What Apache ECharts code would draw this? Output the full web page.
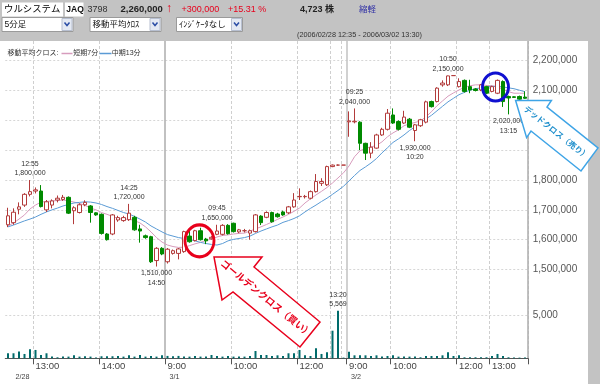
<!DOCTYPE html>
<html><head><meta charset="utf-8">
<script src="https://cdn.jsdelivr.net/npm/echarts/dist/echarts.min.js"></script>
<style>
html,body{margin:0;padding:0;background:#c3c3c3;width:600px;height:384px;overflow:hidden;}
#panel{position:absolute;left:0;top:41px;width:588px;height:343px;background:#fff;}
#chart{position:absolute;left:0;top:0;width:600px;height:384px;}
</style></head><body>
<div id="panel"></div><div id="chart"></div>
<script>
// ---------- data ----------
const categories = [
 '02/28 12:35','02/28 12:40','02/28 12:45','02/28 12:50','02/28 12:55',
 '02/28 13:00','02/28 13:05','02/28 13:10','02/28 13:15','02/28 13:20','02/28 13:25','02/28 13:30','02/28 13:35','02/28 13:40','02/28 13:45','02/28 13:50','02/28 13:55',
 '02/28 14:00','02/28 14:05','02/28 14:10','02/28 14:15','02/28 14:20','02/28 14:25','02/28 14:30','02/28 14:35','02/28 14:40','02/28 14:45','02/28 14:50','02/28 14:55',
 '03/01 09:00','03/01 09:05','03/01 09:10','03/01 09:15','03/01 09:20','03/01 09:25','03/01 09:30','03/01 09:35','03/01 09:40','03/01 09:45','03/01 09:50','03/01 09:55',
 '03/01 10:00','03/01 10:05','03/01 10:10','03/01 10:15','03/01 10:20','03/01 10:25','03/01 10:30','03/01 10:35','03/01 10:40','03/01 10:45','03/01 10:50','03/01 10:55',
 '03/01 12:30','03/01 12:35','03/01 12:40','03/01 12:45','03/01 12:50','03/01 12:55','03/01 13:00','03/01 13:20','03/01 14:55',
 '03/02 09:20','03/02 09:25','03/02 09:30','03/02 09:35','03/02 09:40','03/02 09:45','03/02 09:50','03/02 09:55',
 '03/02 10:00','03/02 10:05','03/02 10:10','03/02 10:15','03/02 10:20','03/02 10:25','03/02 10:30','03/02 10:35','03/02 10:40','03/02 10:45','03/02 10:50','03/02 10:55',
 '03/02 12:30','03/02 12:35','03/02 12:40','03/02 12:45','03/02 12:50','03/02 12:55',
 '03/02 13:00','03/02 13:05','03/02 13:10','03/02 13:15','03/02 13:20','03/02 13:25','03/02 13:30'
];
const openP = [
 1650000,1657000,1702000,1716000,1752000,1763000,1763000,1700000,1716000,1733000,1735000,1742000,1697000,1691000,1717000,1713000,1690000,1685000,1619000,1619000,1666000,1664000,1667000,1675000,1636000,1613000,1610000,1530000,1571000,
 1526000,1554000,1554000,1560000,1612000,1597000,1630000,1602000,1603000,1618000,1618000,1648000,1655000,1626000,1630000,1622000,1627000,1679000,1675000,1691000,1686000,1693000,1690000,1710000,1744000,1744000,1739000,1761000,1789000,1784000,1845000,1850000,1850000,
 1995000,1995000,1994000,1923000,1890000,1907000,1951000,1970000,2018000,1996000,1991000,2004000,1966000,1982000,1994000,2063000,2063000,2119000,2119000,2150000,2113000,2134000,2113000,2105000,2102000,2113000,2097000,2091000,2130000,2080000,2079000,2080000,2078000
];
const closeP = [
 1680000,1692000,1710000,1752000,1761000,1767000,1711000,1727000,1730000,1739000,1742000,1689000,1707000,1717000,1725000,1691000,1683000,1621000,1600000,1683000,1674000,1674000,1689000,1633000,1629000,1607000,1526000,1571000,1552000,
 1568000,1563000,1569000,1627000,1593000,1630000,1600000,1596000,1608000,1629000,1648000,1620000,1627000,1633000,1630000,1630000,1683000,1657000,1691000,1660000,1677000,1683000,1710000,1733000,1745000,1745000,1761000,1795000,1795000,1845000,1850000,1850000,1850000,
 1998000,1997000,1923000,1890000,1910000,1951000,1970000,2024000,1991000,1970000,2011000,1977000,1985000,2002000,2062000,2046000,2108000,2125000,2149000,2150000,2130000,2097000,2102000,2100000,2119000,2091000,2113000,2134000,2063000,2075000,2077000,2071000,2074000
];
const lowP = [
 1642000,1650000,1685000,1710000,1745000,1755000,1708000,1693000,1705000,1725000,1730000,1686000,1652000,1688000,1712000,1657000,1680000,1617000,1597000,1615000,1660000,1660000,1663000,1630000,1590000,1603000,1522000,1510000,1548000,
 1520000,1550000,1534000,1556000,1590000,1594000,1597000,1585000,1600000,1615000,1614000,1617000,1624000,1622000,1624000,1600000,1624000,1649000,1672000,1657000,1674000,1680000,1686000,1707000,1733000,1738000,1735000,1758000,1780000,1780000,1843000,1848000,1850000,
 1945000,1990000,1900000,1867000,1873000,1905000,1948000,1966000,1988000,1966000,1988000,1974000,1930000,1978000,1990000,2043000,2060000,2113000,2115000,2150000,2110000,2093000,2091000,2097000,2098000,2088000,2094000,2088000,2045000,2020000,2075000,2068000,2072000
];
const highP = [
 1707000,1705000,1725000,1756000,1800000,1775000,1783000,1733000,1735000,1748000,1750000,1745000,1712000,1722000,1732000,1716000,1692000,1688000,1622000,1686000,1680000,1680000,1720000,1680000,1650000,1617000,1613000,1575000,1575000,
 1572000,1567000,1572000,1630000,1635000,1633000,1640000,1606000,1612000,1650000,1652000,1652000,1657000,1636000,1636000,1634000,1686000,1682000,1695000,1694000,1690000,1697000,1713000,1756000,1772000,1750000,1765000,1820000,1806000,1848000,1852000,1852000,1850000,
 2030000,2040000,1997000,1925000,1927000,1955000,1975000,2038000,2040000,2000000,2032000,2008000,1988000,2005000,2066000,2066000,2111000,2134000,2150000,2150000,2141000,2137000,2136000,2108000,2122000,2116000,2116000,2137000,2134000,2083000,2081000,2083000,2097000
];
const ma7 = [
 1646000,1656000,1669000,1683000,1703000,1716000,1726000,1728000,1730000,1731000,1733000,1730000,1726000,1722000,1715000,1706000,1700000,1691000,1685000,1678000,1671000,1668000,1669000,1664000,1656000,1643000,1626000,1607000,1592000,
 1582000,1577000,1574000,1575000,1580000,1586000,1591000,1597000,1602000,1609000,1614000,1616000,1619000,1621000,1622000,1629000,1636000,1643000,1651000,1659000,1668000,1676000,1685000,1695000,1706000,1723000,1737000,1750000,1762000,1775000,1790000,1807000,1824000,
 1847000,1878000,1898000,1906000,1911000,1916000,1928000,1945000,1958000,1968000,1982000,1988000,1993000,1998000,2012000,2029000,2049000,2065000,2081000,2092000,2102000,2111000,2116000,2119000,2119000,2117000,2116000,2112000,2104000,2096000,2091000,2091000,2091000
];
const ma13 = [
 1643000,1649000,1656000,1663000,1669000,1676000,1685000,1693000,1700000,1706000,1713000,1718000,1723000,1725000,1727000,1726000,1723000,1718000,1711000,1705000,1698000,1691000,1686000,1678000,1669000,1659000,1646000,1636000,1626000,
 1617000,1612000,1607000,1604000,1601000,1596000,1591000,1587000,1584000,1582000,1587000,1596000,1601000,1604000,1607000,1612000,1621000,1629000,1636000,1643000,1649000,1658000,1664000,1671000,1680000,1693000,1705000,1716000,1728000,1739000,1752000,1765000,1779000,
 1797000,1815000,1832000,1844000,1857000,1872000,1891000,1908000,1926000,1938000,1951000,1966000,1978000,1992000,2005000,2017000,2032000,2047000,2062000,2074000,2086000,2094000,2101000,2106000,2109000,2112000,2114000,2114000,2112000,2109000,2106000,2101000,2096000
];
const volume = [
 590,590,790,510,1060,980,390,590,200,120,200,200,350,200,240,200,80,240,240,240,280,200,350,200,390,200,280,200,350,
 280,240,280,200,200,280,200,200,390,280,200,280,200,200,200,280,860,390,390,280,350,280,590,590,980,350,270,1170,510,700,3240,5569,80,
 780,350,350,350,270,350,200,270,350,200,200,200,200,120,270,270,270,350,700,270,350,120,120,120,120,120,270,510,270,120,80,80,80
];
// axis labels
const tickIdx = [5,17,29,41,53,62,70,82,88];
const tickLabels = ['13:00','14:00','9:00','10:00','12:00','9:00','10:00','12:00','13:00'];
const hourLineIdx = [5,17,41,53,59,61,70,82,88];
const dayLineIdx = [29,62];
const dateIdx = [1,29,62];
const dateLabels = ['2/28','3/1','3/2'];
const priceTicks = [1500000,1600000,1700000,1800000,2100000,2200000];
const volTicks = [5000];
// annotations (high / low notes)
const noteCats = ['02/28 12:55','02/28 14:25','02/28 14:50','03/01 09:45','03/02 09:25','03/02 10:20','03/02 10:50','03/02 13:15'];
const noteVals = [1800000,1720000,1510000,1650000,2040000,1930000,2150000,2020000];
const noteSide = ['top','top','bottom','top','top','bottom','top','bottom'];
const volNoteCat = '03/01 13:20';
const volNoteVal = 5569;
const goldenCross = ['03/01 09:30', 1596000];
const deadCross = ['03/02 13:05', 2112000];

// ---------- chart ----------
const FONT = "'Liberation Sans','Noto Sans CJK JP',sans-serif";
const fmt = v => Math.round(v).toLocaleString('en-US');
const tickMap = {}; tickIdx.forEach((i,k) => tickMap[i] = tickLabels[k]);
const dateMap = {}; dateIdx.forEach((i,k) => dateMap[i] = dateLabels[k]);

const candleData = openP.map((o,i) => [o, closeP[i], lowP[i], highP[i]]);

const notePoints = noteCats.map((c,i) => {
  const t = c.split(' ')[1], v = fmt(noteVals[i]);
  return {coord:[c, noteVals[i]], symbolSize:0,
    label:{show:true, position:noteSide[i], distance:2,
      formatter: noteSide[i]==='top' ? (t+'\n'+v) : (v+'\n'+t)}};
});
notePoints.push({coord:goldenCross, symbol:'circle', symbolSize:[29,32], symbolOffset:[-1,0],
  itemStyle:{color:'rgba(0,0,0,0)', borderColor:'#e8001c', borderWidth:3}, label:{show:false}});
notePoints.push({coord:deadCross, symbol:'circle', symbolSize:[26,28], symbolOffset:[-2,0],
  itemStyle:{color:'rgba(0,0,0,0)', borderColor:'#1010d0', borderWidth:3}, label:{show:false}});

const hSplit = ['rgba(0,0,0,0)','rgba(0,0,0,0)','rgba(0,0,0,0)','#d6d6d6','#d6d6d6','#d6d6d6','#d6d6d6','#d6d6d6','#d6d6d6','#d6d6d6','#d6d6d6','rgba(0,0,0,0)'];

function txt(x, y, text, size, color, o) {
  o = o || {};
  const al = o.align || 'left';
  return {type:'text', x:x, y:y, z:o.z || 50, rotation:o.rot || 0, silent:true,
    style:{text:text, fontSize:size, fontFamily:FONT, fontWeight:o.bold ? 'bold' : 'normal', fill:color,
      align:al, verticalAlign:'middle', textAlign:al, textVerticalAlign:'middle'}};
}
function selBox(x, w, label) {
  return [
    {type:'rect', z:40, silent:true, shape:{x:x+0.5, y:17.5, width:w, height:14}, style:{fill:'#fff', stroke:'#9a9a9a', lineWidth:1}},
    {type:'rect', z:41, silent:true, shape:{x:x+w-10.5, y:18.5, width:10, height:12}, style:{fill:'#e4e9f3', stroke:'#b7bfd0', lineWidth:1}},
    {type:'polyline', z:42, silent:true, shape:{points:[[x+w-8,22.5],[x+w-5.5,25.5],[x+w-3,22.5]]}, style:{stroke:'#2c4ea6', lineWidth:1.5, fill:null}},
    txt(x+3, 24.5, label, 8.5, '#111')
  ];
}

const graphics = [
  {type:'rect', z:40, silent:true, shape:{x:2, y:2.5, width:61, height:14}, style:{fill:'#fff'}},
  txt(4, 9.7, 'ウルシステム', 9.4, '#000'),
  {type:'rect', z:40, silent:true, shape:{x:65, y:2.5, width:18.5, height:14}, style:{fill:'#fff'}},
  txt(66.3, 9.7, 'JAQ', 8.5, '#111', {bold:true}),
  txt(87.5, 9.7, '3798', 9, '#333'),
  txt(120.5, 9.7, '2,260,000', 9.5, '#222', {bold:true}),
  txt(166, 8.5, '↑', 12, '#e8001c', {bold:true}),
  txt(181.5, 9.7, '+300,000', 9, '#e8001c'),
  txt(228, 9.7, '+15.31 %', 9, '#e8001c'),
  txt(300, 9.7, '4,723 株', 9, '#222', {bold:true}),
  txt(359, 9.7, '縮軽', 8.5, '#3333a6'),
  ...selBox(1.5, 71, '5分足'),
  ...selBox(89.5, 71, '移動平均ｸﾛｽ'),
  ...selBox(176, 66, 'ｲﾝｼﾞｹｰﾀなし'),
  txt(297, 35.3, '(2006/02/28 12:35 - 2006/03/02 13:30)', 7.3, '#333'),
  // legend
  txt(7.5, 53.5, '移動平均クロス:', 7, '#333'),
  {type:'line', z:50, silent:true, shape:{x1:61.5, y1:53.5, x2:72.5, y2:53.5}, style:{stroke:'#d79cbd', lineWidth:1.5}},
  txt(73.3, 53.5, '短期7分', 7, '#333'),
  {type:'line', z:50, silent:true, shape:{x1:99.5, y1:53.5, x2:111.5, y2:53.5}, style:{stroke:'#5b9bd5', lineWidth:1.5}},
  txt(111.8, 53.5, '中期13分', 7, '#333'),
  // golden cross arrow
  {type:'polygon', z:60, silent:true, shape:{points:[[214,257],[262,257],[254,267],[320,322],[300,347],[233,292],[222,300]]},
    style:{fill:'#fff', stroke:'#e8001c', lineWidth:1.5}},
  txt(266, 299, 'ゴールデンクロス（買い）', 9.6, '#e8001c', {bold:true, align:'center', rot:-0.69, z:61}),
  // dead cross arrow
  {type:'polygon', z:60, silent:true, shape:{points:[[515.6,100.4],[551.4,100.4],[547,107],[598,148],[581,171],[531,131],[526.6,137.6]]},
    style:{fill:'#fff', stroke:'#3ea4e6', lineWidth:1.5}},
  txt(556, 133, 'デッドクロス（売り）', 8, '#1f8fcc', {bold:true, align:'center', rot:-0.67, z:61})
];

const chart = echarts.init(document.getElementById('chart'), null, {renderer:'canvas'});
chart.setOption({
  animation:false,
  backgroundColor:'rgba(0,0,0,0)',
  textStyle:{fontFamily:FONT},
  grid:[
    {left:5.25, right:72.25, top:41, bottom:25, containLabel:false, outerBoundsMode:'none'},
    {left:5.25, right:72.25, top:307.2, bottom:25.7, containLabel:false, outerBoundsMode:'none'}
  ],
  xAxis:[
    {type:'category', gridIndex:0, data:categories, boundaryGap:true, position:'bottom',
      axisLine:{show:false}, axisTick:{show:false}, axisLabel:{show:false},
      splitLine:{show:true, interval:(i)=>hourLineIdx.indexOf(i) >= 0, lineStyle:{color:'#cfcfcf', type:[3,2], width:1}}},
    {type:'category', gridIndex:0, data:categories, boundaryGap:true, position:'bottom',
      axisLine:{show:false}, axisTick:{show:false}, axisLabel:{show:false},
      splitLine:{show:true, interval:(i)=>dayLineIdx.indexOf(i) >= 0, lineStyle:{color:['#b2b2b2','#c6c6c6'], type:'solid', width:1.6}}},
    {type:'category', gridIndex:1, data:categories, boundaryGap:true, position:'bottom',
      axisLine:{show:true, lineStyle:{color:'#555', width:1}},
      axisTick:{show:true, interval:(i)=>tickMap[i] !== undefined, length:6, lineStyle:{color:'#555'}},
      axisLabel:{show:true, interval:(i)=>tickMap[i] !== undefined, formatter:(v,i)=>tickMap[i] || '',
        align:'left', margin:3, fontSize:9.5, color:'#444', fontFamily:FONT},
      splitLine:{show:false}},
    {type:'category', gridIndex:1, data:categories, boundaryGap:true, position:'bottom',
      axisLine:{show:false}, axisTick:{show:false},
      axisLabel:{show:true, interval:(i)=>dateMap[i] !== undefined, formatter:(v,i)=>dateMap[i] || '',
        align:'left', margin:15, fontSize:7.2, color:'#444', padding:[0,0,0,2], fontFamily:FONT},
      splitLine:{show:false}}
  ],
  yAxis:[
    {type:'value', gridIndex:0, position:'right', min:1200000, max:2266000, interval:100000, scale:true,
      axisLine:{show:false}, axisTick:{show:false},
      axisLabel:{margin:5, fontSize:10, color:'#555', fontFamily:FONT,
        formatter:(v)=>priceTicks.indexOf(Math.round(v)) >= 0 ? fmt(v) : ''},
      splitLine:{show:true, lineStyle:{color:hSplit, type:[2,2], width:1}}},
    {type:'value', gridIndex:1, position:'right', min:0, max:6000, interval:5000,
      axisLine:{show:false}, axisTick:{show:false},
      axisLabel:{margin:5, fontSize:10, color:'#555', fontFamily:FONT,
        formatter:(v)=>volTicks.indexOf(Math.round(v)) >= 0 ? fmt(v) : ''},
      splitLine:{show:true, lineStyle:{color:['rgba(0,0,0,0)','#d6d6d6','rgba(0,0,0,0)'], type:[2,2], width:1}}}
  ],
  series:[
    {name:'短期7分', type:'line', xAxisIndex:0, yAxisIndex:0, data:ma7, showSymbol:false, symbol:'none', z:1,
      lineStyle:{color:'#d79cbd', width:1}, itemStyle:{color:'#d79cbd'}},
    {name:'中期13分', type:'line', xAxisIndex:0, yAxisIndex:0, data:ma13, showSymbol:false, symbol:'none', z:1,
      lineStyle:{color:'#5b9bd5', width:1}, itemStyle:{color:'#5b9bd5'}},
    {name:'5分足', type:'candlestick', xAxisIndex:0, yAxisIndex:0, data:candleData, barWidth:4, z:2,
      itemStyle:{color:'#ffffff', color0:'#008a00', borderColor:'#b23b3b', borderColor0:'#008a00', borderColorDoji:'#b23b3b', borderWidth:1},
      markPoint:{silent:true, symbol:'circle', symbolSize:0,
        label:{show:true, fontSize:7, color:'#333', lineHeight:9.5, fontFamily:FONT},
        data:notePoints}},
    {name:'出来高', type:'bar', xAxisIndex:2, yAxisIndex:1, data:volume, barWidth:2,
      itemStyle:{color:'#006b6b'},
      markPoint:{silent:true, symbol:'circle', symbolSize:0,
        label:{show:true, fontSize:7, color:'#333', lineHeight:9.5, fontFamily:FONT},
        data:[{coord:[volNoteCat, volNoteVal], symbolSize:0,
          label:{position:'top', distance:2, formatter:volNoteCat.split(' ')[1] + '\n' + fmt(volNoteVal)}}]}}
  ],
  graphic:{elements:graphics}
});
</script>
</body></html>
